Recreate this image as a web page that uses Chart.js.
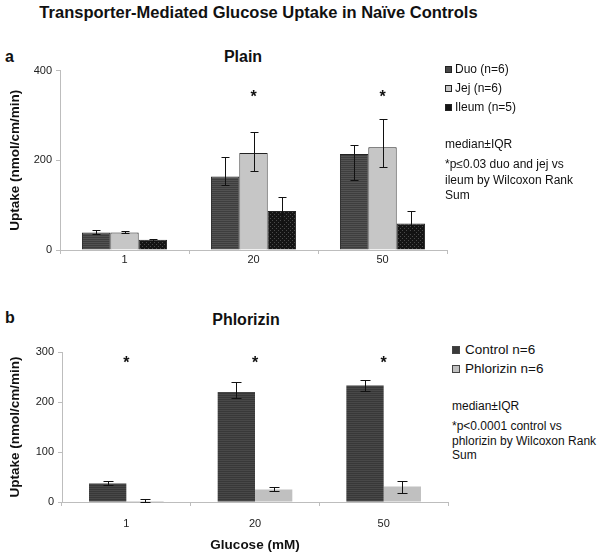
<!DOCTYPE html>
<html><head><meta charset="utf-8">
<script src="https://cdn.jsdelivr.net/npm/chart.js@4/dist/chart.umd.min.js"></script>
<style>
body{margin:0;background:#fff;width:601px;height:553px;position:relative;overflow:hidden;font-family:"Liberation Sans",Arial,sans-serif;color:#111}
.t{position:absolute;white-space:nowrap}
.box{position:absolute}
.sq{display:inline-block;border:1px solid #222;vertical-align:middle;margin-right:3px;box-sizing:border-box}
</style></head><body>

<div class="t" style="left:0;width:517px;top:2px;text-align:center;font-weight:bold;font-size:16.5px;line-height:20px">Transporter-Mediated Glucose Uptake in Naïve Controls</div>

<div class="t" style="left:5px;top:48px;font-weight:bold;font-size:16px;line-height:18px">a</div>
<div class="t" style="left:193px;width:100px;text-align:center;top:48px;font-weight:bold;font-size:16px;line-height:18px">Plain</div>

<div class="t" style="left:5px;top:309px;font-weight:bold;font-size:16px;line-height:18px">b</div>
<div class="t" style="left:186px;width:120px;text-align:center;top:311px;font-weight:bold;font-size:16px;line-height:18px">Phlorizin</div>

<div class="box" style="left:0;top:60px;width:452px;height:220px"><canvas id="ca"></canvas></div>
<div class="box" style="left:0;top:330px;width:452px;height:223px"><canvas id="cb"></canvas></div>

<div id="legA" class="t" style="left:445px;top:60px;font-size:12px;line-height:19px"></div>
<div class="t" style="left:445px;top:136px;font-size:12px;line-height:16px">median±IQR</div>
<div class="t" style="left:445px;top:157px;font-size:12px;line-height:15.5px">*p≤0.03 duo and jej vs<br>ileum by Wilcoxon Rank<br>Sum</div>

<div id="legB" class="t" style="left:452px;top:340px;font-size:13.5px;line-height:19px"></div>
<div class="t" style="left:452px;top:398px;font-size:12px;line-height:16px">median±IQR</div>
<div class="t" style="left:452px;top:419px;font-size:12px;line-height:14.5px">*p&lt;0.0001 control vs<br>phlorizin by Wilcoxon Rank<br>Sum</div>

<script>
// ---- data ----
const categories = ['1', '20', '50'];

// Panel a (Plain)
const seriesA = ['Duo (n=6)', 'Jej (n=6)', 'Ileum (n=5)'];
const duo      = [39, 164, 214];
const duoLo    = [35, 145, 156];
const duoHi    = [45, 208, 233];
const jej      = [39, 216, 229];
const jejLo    = [37, 176, 184];
const jejHi    = [43, 262, 292];
const ileum    = [23, 87, 59];
const ileumLo  = [21, 60, 40];
const ileumHi  = [25, 118, 87];
const sigA     = [null, 347, 347];
const ticksA   = [0, 200, 400];

// Panel b (Phlorizin)
const seriesB = ['Control n=6', 'Phlorizin n=6'];
const control    = [37, 220, 233];
const controlLo  = [34, 209, 221];
const controlHi  = [43, 240, 245];
const phlorizin  = [2, 25, 31];
const phlorLo    = [0, 23, 19];
const phlorHi    = [7, 31, 43];
const sigB       = [283, 283, 283];
const ticksB     = [0, 100, 200, 300];

const xTitleB = 'Glucose (mM)';
const yTitle = 'Uptake (nmol/cm/min)';

// ---- styles ----
function pattern(base, dot, kind) {
  const c = document.createElement('canvas');
  c.width = 4; c.height = 4;
  const g = c.getContext('2d');
  g.fillStyle = base; g.fillRect(0, 0, 4, 4);
  g.fillStyle = dot;
  if (kind === 'lines') { g.fillRect(0, 0, 4, 1); g.fillRect(0, 2, 4, 1); }
  else { g.fillRect(0, 0, 1, 1); g.fillRect(2, 2, 1, 1); }
  return g.createPattern(c, 'repeat');
}
const cDuo = pattern('#3e3e3e', '#525252', 'lines');
const cJej = '#c6c6c6';
const cIle = pattern('#141414', '#4a4a4a', 'dots');
const cCtl = pattern('#383838', '#484848', 'lines');
const cPhl = '#c0c0c0';

const FONT = '"Liberation Sans", Arial, sans-serif';

const errPlugin = {
  id: 'errbars',
  afterDatasetsDraw(chart) {
    const ctx = chart.ctx;
    const ys = chart.scales.y;
    const cap = chart.options.plugins.errbars.cap;
    ctx.save();
    ctx.strokeStyle = '#111';
    ctx.lineWidth = 1;
    chart.data.datasets.forEach((ds, di) => {
      const meta = chart.getDatasetMeta(di);
      meta.data.forEach((bar, i) => {
        const x = Math.round(bar.x) + 0.5;
        const y1 = Math.round(ys.getPixelForValue(ds.errLo[i])) + 0.5;
        const y2 = Math.round(ys.getPixelForValue(ds.errHi[i])) + 0.5;
        ctx.beginPath();
        ctx.moveTo(x, y1); ctx.lineTo(x, y2);
        ctx.moveTo(x - cap, y1); ctx.lineTo(x + cap, y1);
        ctx.moveTo(x - cap, y2); ctx.lineTo(x + cap, y2);
        ctx.stroke();
      });
    });
    // significance stars
    const sig = chart.options.plugins.errbars.sig;
    ctx.fillStyle = '#111';
    ctx.font = 'bold 16px ' + FONT;
    ctx.textAlign = 'center';
    ctx.textBaseline = 'middle';
    sig.forEach((v, i) => {
      if (v == null) return;
      ctx.fillText('*', chart.scales.x.getPixelForValue(i), ys.getPixelForValue(v) + 3);
    });
    ctx.restore();
  }
};

function makeChart(id, datasets, opt) {
  return new Chart(document.getElementById(id), {
    type: 'bar',
    data: { labels: categories, datasets },
    plugins: [errPlugin],
    options: {
      responsive: true,
      maintainAspectRatio: false,
      animation: false,
      layout: { padding: { left: 0, right: opt.padRight, top: opt.padTop, bottom: 0 } },
      plugins: {
        legend: { display: false },
        tooltip: { enabled: false },
        errbars: { cap: opt.cap, sig: opt.sig }
      },
      datasets: { bar: { categoryPercentage: opt.catPct, barPercentage: 1.0 } },
      scales: {
        x: {
          grid: { drawOnChartArea: false, color: '#bdbdbd', tickLength: 4, offset: true },
          border: { color: '#bdbdbd' },
          ticks: { color: '#222', font: { family: FONT, size: 11 }, padding: opt.xPad },
          title: opt.xTitle ? { display: true, text: opt.xTitle, color: '#111', font: { family: FONT, size: 13.5, weight: 'bold' }, padding: { top: 0, bottom: 0 } } : { display: false },
          afterFit: s => { s.height = opt.xHeight; }
        },
        y: {
          min: 0, max: opt.max,
          afterBuildTicks: s => { s.ticks = opt.ticks.map(v => ({ value: v })); },
          grid: { drawOnChartArea: false, color: '#bdbdbd', tickLength: 4 },
          border: { color: '#bdbdbd' },
          ticks: { color: '#222', font: { family: FONT, size: 11 }, padding: 4 },
          title: { display: true, text: yTitle, color: '#111', font: { family: FONT, size: 13.5, weight: 'bold' }, padding: { top: 7, bottom: 0 } },
          afterFit: s => { s.width = opt.yWidth; }
        }
      }
    }
  });
}

makeChart('ca', [
  { label: seriesA[0], data: duo, errLo: duoLo, errHi: duoHi, backgroundColor: cDuo, borderColor: '#222', borderWidth: 1 },
  { label: seriesA[1], data: jej, errLo: jejLo, errHi: jejHi, backgroundColor: cJej, borderColor: '#222', borderWidth: 1 },
  { label: seriesA[2], data: ileum, errLo: ileumLo, errHi: ileumHi, backgroundColor: cIle, borderColor: '#222', borderWidth: 1 }
], { padRight: 5, padTop: 9, cap: 4, sig: sigA, catPct: 0.66, xPad: -1, xHeight: 30, max: 400, ticks: ticksA, yWidth: 60 });

makeChart('cb', [
  { label: seriesB[0], data: control, errLo: controlLo, errHi: controlHi, backgroundColor: cCtl, borderWidth: 0 },
  { label: seriesB[1], data: phlorizin, errLo: phlorLo, errHi: phlorHi, backgroundColor: cPhl, borderWidth: 0 }
], { padRight: 4, padTop: 22, cap: 5, sig: sigB, catPct: 0.58, xPad: 11, xHeight: 51, max: 300, ticks: ticksB, yWidth: 62, xTitle: xTitleB });

// HTML legends built from series names
const legA = document.getElementById('legA');
legA.innerHTML = seriesA.map((s, i) => {
  const col = ['#474747', '#c6c6c6', '#141414'][i];
  return '<div><span class="sq" style="width:7px;height:7px;background:' + col + '"></span>' + s + '</div>';
}).join('');
const legB = document.getElementById('legB');
legB.innerHTML = seriesB.map((s, i) => {
  const col = ['#3a3a3a', '#c0c0c0'][i];
  return '<div><span class="sq" style="width:8px;height:8px;margin-right:5px;border-color:#444;background:' + col + '"></span>' + s + '</div>';
}).join('');
</script>
</body></html>
